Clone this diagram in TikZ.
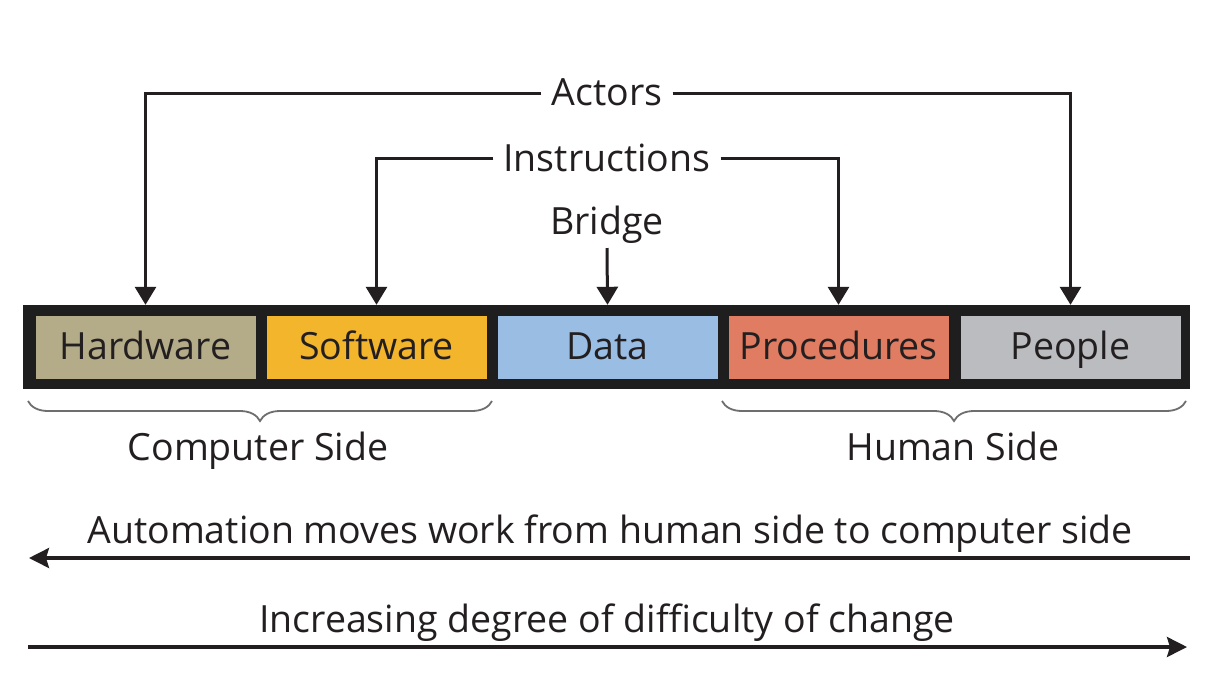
\documentclass[tikz,border=0pt]{standalone}
\usepackage{fontspec}
\setmainfont{Open Sans}
\usetikzlibrary{arrows.meta,decorations.pathreplacing,calc}
\definecolor{ink}{HTML}{231F20}
\definecolor{hwc}{HTML}{B4AB88}
\definecolor{swc}{HTML}{F2B52C}
\definecolor{dac}{HTML}{9ABDE4}
\definecolor{prc}{HTML}{DF7C61}
\definecolor{pec}{HTML}{BBBCBF}
\definecolor{barc}{HTML}{1E1E1E}
\definecolor{bracec}{HTML}{6E6E6E}
\begin{document}
\begin{tikzpicture}[x=1pt,y=-1pt,
  lbl/.style={font=\fontsize{37.5}{44}\selectfont, text=ink, inner xsep=10pt, inner ysep=0pt, anchor=base},
  cell/.style={minimum width=220pt, minimum height=63pt, inner sep=0pt},
  celltext/.style={font=\fontsize{37.5}{44}\selectfont, text=ink, inner sep=0pt, anchor=base},
  conn/.style={draw=ink, line width=3pt, -{Triangle[width=21pt,length=18pt]}},
  flow/.style={draw=ink, line width=3.2pt, -{Stealth[width=20pt,length=20pt,inset=3pt]}},
  brc/.style={draw=bracec, line width=1.8pt, decorate, decoration={brace, mirror, amplitude=20pt}}]
\useasboundingbox (0,0) rectangle (1223,681);
\fill[white] (0,0) rectangle (1223,681);
% bar
\node[fill=barc, minimum width=1167pt, minimum height=84pt, inner sep=0pt] (bar) at (606.5,347) {};
\node[cell, fill=hwc] (hw) at (145.5,347.5) {};
\node[cell, fill=swc] (sw) at (376.5,347.5) {};
\node[cell, fill=dac] (da) at (607.5,347.5) {};
\node[cell, fill=prc] (pr) at (838.5,347.5) {};
\node[cell, fill=pec] (pe) at (1070.5,347.5) {};
\node[celltext] (hwt) at (145.5,359) {Hardware};
\node[celltext] (swt) at (376.5,359) {Software};
\node[celltext] (dat) at (607.5,359) {Data};
\node[celltext] (prt) at (838.5,359) {Procedures};
\node[celltext] (pet) at (1070.5,359) {People};
% labels
\node[lbl] (actors) at (607,105) {Actors};
\node[lbl] (instr) at (607,171) {Instructions};
\node[lbl] (bridge) at (607,234) {Bridge};
% connectors
\draw[conn] (actors.west |- 0,93) -| (hw.north |- bar.north);
\draw[conn] (actors.east |- 0,93) -| (pe.north |- bar.north);
\draw[conn] (instr.west |- 0,158) -| (sw.north |- bar.north);
\draw[conn] (instr.east |- 0,158) -| (pr.north |- bar.north);
\coordinate (bstart) at (607,248);
\draw[conn] (bstart) -- (da.north |- bar.north);
% braces
\coordinate (lb1) at (28,401);
\coordinate (lb2) at (492,401);
\coordinate (rb1) at (722,401);
\coordinate (rb2) at (1186,401);
\draw[brc] (lb1) -- (lb2);
\draw[brc] (rb1) -- (rb2);
\node[lbl] (comp) at (258,460) {Computer Side};
\node[lbl] (human) at (953,460) {Human Side};
% bottom arrows
\node[lbl] (auto) at (610,543) {Automation moves work from human side to computer side};
\coordinate (a1) at (1190,558);
\coordinate (a2) at (29,558);
\draw[flow] (a1) -- (a2);
\node[lbl] (incr) at (607,632) {Increasing degree of difficulty of change};
\coordinate (i1) at (28,647);
\coordinate (i2) at (1187,647);
\draw[flow] (i1) -- (i2);
\end{tikzpicture}
\end{document}
